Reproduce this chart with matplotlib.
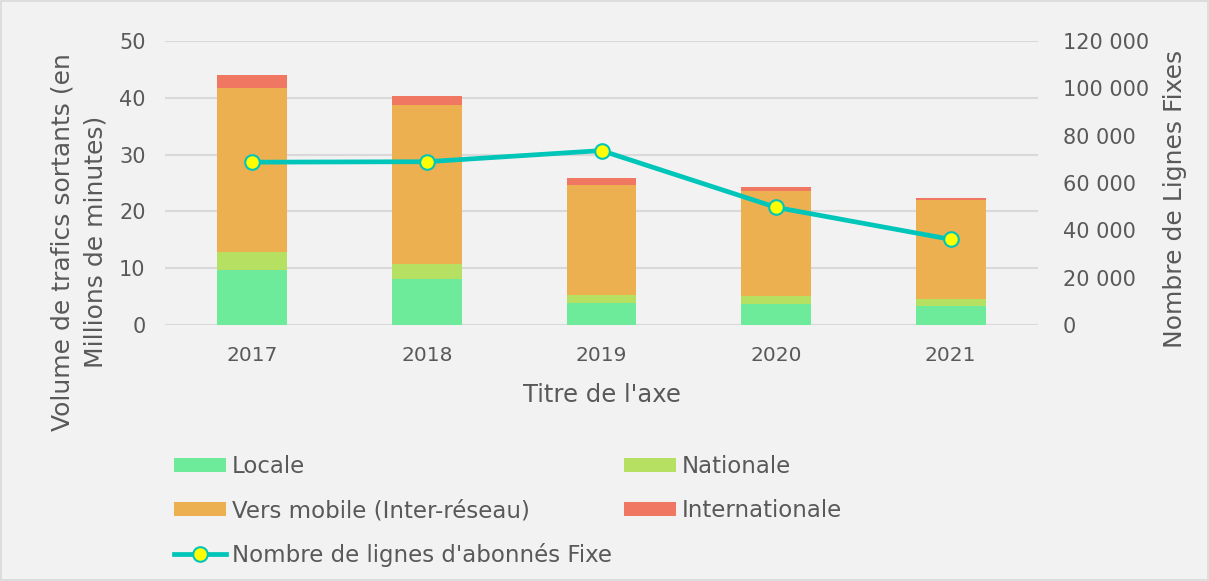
import numpy as np
import matplotlib
matplotlib.use("Agg")
import matplotlib.pyplot as plt
from matplotlib.patches import Rectangle
from matplotlib.ticker import FuncFormatter

years = ["2017", "2018", "2019", "2020", "2021"]
locale = [9.7, 8.1, 3.9, 3.7, 3.4]
nationale = [3.1, 2.7, 1.4, 1.4, 1.1]
vers_mobile = [29.0, 27.9, 19.4, 18.5, 17.5]
internationale = [2.3, 1.6, 1.2, 0.7, 0.3]
lignes_fixes = [68800, 69000, 73700, 49700, 36200]

txt = "#595959"
bg = "#f2f2f2"
plt.rcParams["font.family"] = "DejaVu Sans"
plt.rcParams["text.color"] = txt

W, H = 1209, 581
fig = plt.figure(figsize=(W / 100, H / 100), dpi=100, facecolor=bg)
fig.patches.append(Rectangle((0.001, 0.001), 0.998, 0.998, transform=fig.transFigure,
                             fill=False, edgecolor="#d9d9d9", linewidth=1.2))
# plot area: x 165..1038 px, y 41..325 px
ax = fig.add_axes([165 / W, 1 - 325 / H, 873 / W, 284 / H], facecolor=bg)

x = np.arange(len(years))
w = 0.4
bottom = np.zeros(len(years))
series = [("Locale", locale, "#6eea9b"),
          ("Nationale", nationale, "#b5e061"),
          ("Vers mobile (Inter-réseau)", vers_mobile, "#edb050"),
          ("Internationale", internationale, "#f07862")]
handles = {}
for name, vals, col in series:
    handles[name] = ax.bar(x, vals, w, bottom=bottom, color=col, label=name, zorder=2)
    bottom += np.array(vals)

ax.set_xlim(-0.5, len(years) - 0.5)
ax.set_ylim(0, 50)
ax.set_yticks(range(0, 51, 10))
ax.set_xticks(x)
ax.set_xticklabels(years)
ax.grid(axis="y", color="#d9d9d9", linewidth=1.5, zorder=0)
ax.set_axisbelow(True)
for s in ax.spines.values():
    s.set_visible(False)
ax.tick_params(axis="y", length=0, labelsize=15, labelcolor=txt, pad=14)
ax.tick_params(axis="x", length=0, labelsize=14.5, labelcolor=txt, pad=15)

ax2 = ax.twinx()
ax2.set_ylim(0, 120000)
ax2.set_yticks(range(0, 120001, 20000))
ax2.yaxis.set_major_formatter(FuncFormatter(lambda v, p: f"{int(v):,}".replace(",", " ")))
for s in ax2.spines.values():
    s.set_visible(False)
ax2.tick_params(length=0, labelsize=15, labelcolor=txt, pad=18)
line, = ax2.plot(x, lignes_fixes, color="#00c5b9", linewidth=3.4, marker="o",
                 markersize=10.5, markerfacecolor="#ffff00", markeredgecolor="#00c5b9",
                 markeredgewidth=1.5, label="Nombre de lignes d'abonnés Fixe", zorder=3)

# axis titles
fig.text(602 / W, 1 - 395 / H, "Titre de l'axe", fontsize=17.5, color=txt,
         ha="center", va="center")
fig.text(79 / W, 1 - 242 / H, "Volume de trafics sortants (en\nMillions de minutes)",
         fontsize=18, color=txt, rotation=90, ha="center", va="center",
         multialignment="center", linespacing=1.45)
fig.text(1175 / W, 1 - 199 / H, "Nombre de Lignes Fixes", fontsize=18, color=txt,
         rotation=90, ha="center", va="center")

order = [handles["Locale"], handles["Vers mobile (Inter-réseau)"], line,
         handles["Nationale"], handles["Internationale"]]
labels = ["Locale", "Vers mobile (Inter-réseau)", "Nombre de lignes d'abonnés Fixe",
          "Nationale", "Internationale"]
fig.legend(order, labels, loc="center left", bbox_to_anchor=(174 / W, 1 - 511 / H), ncol=2,
           frameon=False, fontsize=16.5, handlelength=2.26, handleheight=0.56,
           handletextpad=0.26, columnspacing=0.53, labelspacing=0.9, labelcolor=txt,
           borderpad=0, borderaxespad=0)

fig.savefig("out.png", dpi=100, facecolor=bg)
